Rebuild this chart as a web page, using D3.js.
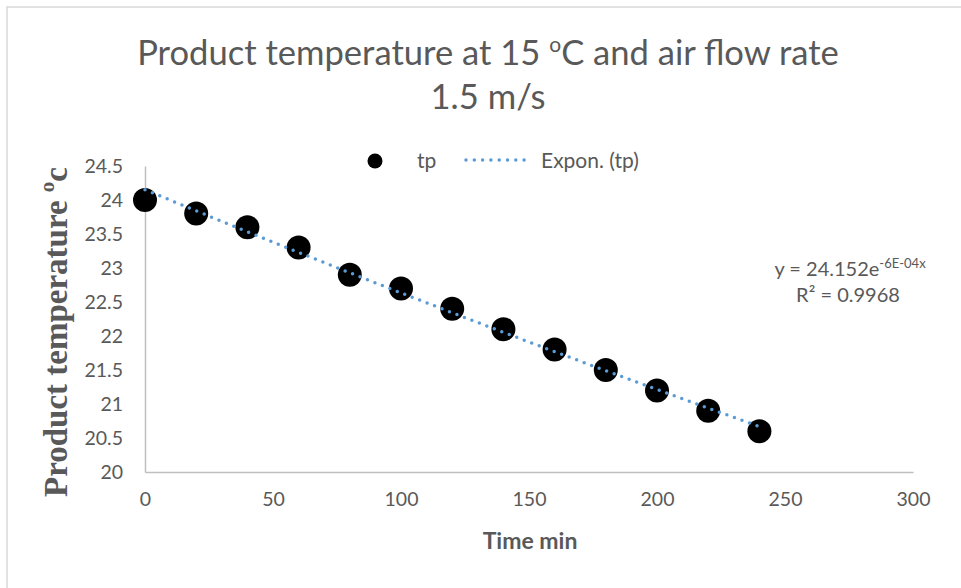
<!DOCTYPE html>
<html><head><meta charset="utf-8">
<script src="https://cdn.jsdelivr.net/npm/d3@7"></script>
<style>body{margin:0;background:#fff}svg{display:block}</style>
</head><body>
<svg id="c" width="961" height="588"></svg>
<script>
const timeMin = [0,20,40,60,80,100,120,140,160,180,200,220,240];
const tp = [24,23.8,23.6,23.3,22.9,22.7,22.4,22.1,21.8,21.5,21.2,20.9,20.6];
const xTicks = [0,50,100,150,200,250,300];
const yTicks = [20,20.5,21,21.5,22,22.5,23,23.5,24,24.5];
const seriesName = "tp";
const trendName = "Expon. (tp)";
const equationText = "y = 24.152e";
const equationExp = "-6E-04x";
const r2Text = "R² = 0.9968";

const svg = d3.select("#c");
const font = "Lato, 'Open Sans', sans-serif";
const grey = "#595959";

svg.append("rect").attr("x",7).attr("y",7).attr("width",960).attr("height",590)
  .attr("fill","none").attr("stroke","#d9d9d9").attr("stroke-width",1.5);

const x = d3.scaleLinear().domain([0,300]).range([145,913]);
const y = d3.scaleLinear().domain([20,24.5]).range([472,166]);

// title
const title = svg.append("text").attr("text-anchor","middle").attr("fill",grey)
  .style("font-family",font).style("font-size","34.6px");
const t1 = title.append("tspan").attr("x",488).attr("y",65);
t1.append("tspan").text("Product temperature at 15 ");
t1.append("tspan").attr("dy",-13).style("font-size","21px").text("o");
t1.append("tspan").attr("dy",13).text("C and air flow rate");
title.append("tspan").attr("x",488).attr("y",109).text("1.5 m/s");

// axes
const xAxis = d3.axisBottom(x).tickValues(xTicks).tickSize(0).tickPadding(20).tickFormat(d3.format("d"));
const gx = svg.append("g").attr("transform","translate(0,472)").call(xAxis);
const yAxis = d3.axisLeft(y).tickValues(yTicks).tickSize(0).tickPadding(22).tickFormat(d=>String(d));
const gy = svg.append("g").attr("transform","translate(145,0)").call(yAxis);
[gx,gy].forEach(g=>{
  g.select(".domain").attr("stroke","#bfbfbf").attr("stroke-width",1.5);
  g.selectAll("text").attr("fill",grey).style("font-family",font).style("font-size","19.5px");
});

// axis titles
svg.append("text").attr("x",530).attr("y",549).attr("text-anchor","middle")
  .attr("fill",grey).style("font-family",font).style("font-size","23px").style("font-weight","bold")
  .text("Time min");
const yl = svg.append("text").attr("transform","translate(67,332) rotate(-90)").attr("text-anchor","middle")
  .attr("fill",grey).style("font-family","'Liberation Serif', 'Times New Roman', serif")
  .style("font-size","33px").style("font-weight","bold");
yl.append("tspan").text("Product temperature ");
yl.append("tspan").attr("dy",-13).style("font-size","21px").text("o");
yl.append("tspan").attr("dy",13).text("c");

// exponential fit (least squares on ln y)
const ly = tp.map(Math.log);
const mx = d3.mean(timeMin), my = d3.mean(ly);
const b = d3.sum(timeMin.map((t,i)=>(t-mx)*(ly[i]-my))) / d3.sum(timeMin.map(t=>(t-mx)*(t-mx)));
const a = Math.exp(my - b*mx);
const fitX = d3.range(0,241,2);
const line = d3.line().x(d=>x(d)).y(d=>y(a*Math.exp(b*d)));

// points
svg.append("g").selectAll("circle").data(timeMin).join("circle")
  .attr("cx",d=>x(d)).attr("cy",(d,i)=>y(tp[i])).attr("r",12).attr("fill","#000");

svg.append("path").datum(fitX).attr("d",line).attr("fill","none")
  .attr("stroke","#5b9bd5").attr("stroke-width",3.5).attr("stroke-linecap","round")
  .attr("stroke-dasharray","0 8");

// equation
const eq = svg.append("text").attr("x",850).attr("y",276).attr("text-anchor","middle")
  .attr("fill",grey).style("font-family",font).style("font-size","20px");
eq.append("tspan").text(equationText);
eq.append("tspan").attr("dy",-8).style("font-size","13px").text(equationExp);
svg.append("text").attr("x",848).attr("y",302).attr("text-anchor","middle")
  .attr("fill",grey).style("font-family",font).style("font-size","20px").text(r2Text);

// legend
const lg = svg.append("g");
lg.append("circle").attr("cx",375).attr("cy",161).attr("r",7.5).attr("fill","#000");
lg.append("text").attr("x",417).attr("y",168).attr("fill",grey).style("font-family",font).style("font-size","21px").text(seriesName);
lg.append("line").attr("x1",466).attr("x2",528).attr("y1",160).attr("y2",160)
  .attr("stroke","#5b9bd5").attr("stroke-width",3.5).attr("stroke-linecap","round").attr("stroke-dasharray","0 8.3");
lg.append("text").attr("x",541).attr("y",168).attr("fill",grey).style("font-family",font).style("font-size","21px").text(trendName);
</script>
</body></html>
